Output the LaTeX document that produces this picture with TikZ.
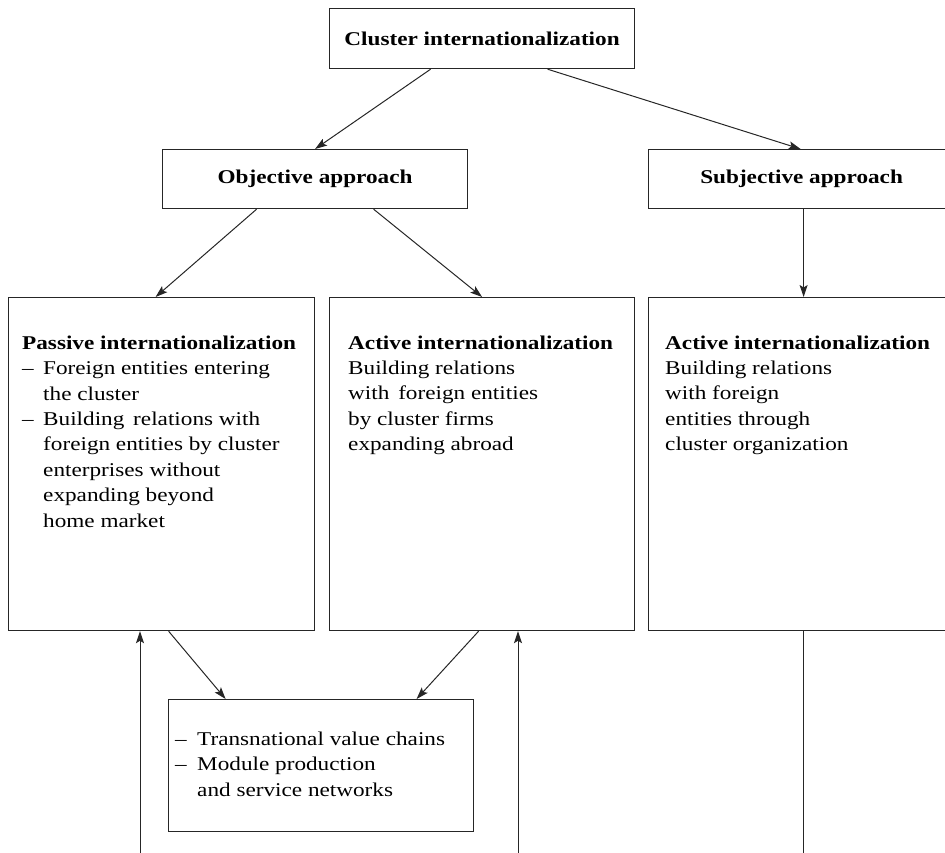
\documentclass[tikz,border=0pt]{standalone}
\usepackage{fontspec}
\setmainfont[FakeStretch=1.19]{Liberation Serif}
\usetikzlibrary{arrows.meta}
\newcommand\fs{\fontsize{19.5}{25.4}\selectfont}
\newcommand\itm{\makebox[21pt][l]{–}}
\newcommand\ind{\hspace*{21pt}}
\begin{document}
\begin{tikzpicture}[x=1pt,y=-1pt,
  every node/.style={font=\fs},
  box/.style={draw=black!85, line width=1.2pt, inner sep=0pt, anchor=north west},
  body/.style={anchor=base west, inner sep=0pt, align=left},
  arr/.style={draw=black!85, line width=1pt, -{Stealth[length=12pt,width=8pt,inset=2.5pt]}},
  lin/.style={draw=black!85, line width=1pt}]
\clip (0,0) rectangle (945,853);

% boxes
\node[box, minimum width=305pt, minimum height=60pt] (top) at (329,8) {\bfseries Cluster internationalization};
\node[box, minimum width=305pt, minimum height=59pt] (obj) at (162,149) {\bfseries Objective approach};
\node[box, minimum width=306pt, minimum height=59pt] (subj) at (648,149) {\bfseries Subjective approach};
\node[box, minimum width=306pt, minimum height=333pt] (passive) at (8,297) {};
\node[box, minimum width=305pt, minimum height=333pt] (active) at (329,297) {};
\node[box, minimum width=306pt, minimum height=333pt] (right) at (648,297) {};
\node[box, minimum width=305pt, minimum height=132pt] (bottom) at (168,699) {};

% box texts (anchored at the baseline of their last line)
\node[body] (passivetxt) at (22,527) {\textbf{Passive internationalization}\\
  \itm Foreign entities entering\\
  \ind the cluster\\
  \itm Building\hspace{3pt} relations with\\
  \ind foreign entities by cluster\\
  \ind enterprises without\\
  \ind expanding beyond\\
  \ind home market};
\node[body] (activetxt) at (348,450.6) {\textbf{Active internationalization}\\
  Building relations\\
  with\hspace{3pt} foreign entities\\
  by cluster firms\\
  expanding abroad};
\node[body] (righttxt) at (665,450.6) {\textbf{Active internationalization}\\
  Building relations\\
  with foreign\\
  entities through\\
  cluster organization};
\node[body] (bottomtxt) at (175,796) {\makebox[22pt][l]{–}Transnational value chains\\
  \makebox[22pt][l]{–}Module production\\
  \hspace*{22pt}and service networks};

% connectors
\draw[arr] ([xshift=-51.5pt]top.south) -- (obj.north);
\draw[arr] ([xshift=65.5pt]top.south) -- ([xshift=-1pt]subj.north);
\draw[arr] ([xshift=-58.5pt]obj.south) -- ([xshift=-6pt]passive.north);
\draw[arr] ([xshift=58.5pt]obj.south) -- (active.north);
\draw[arr] ([xshift=2pt]subj.south) -- ([xshift=2pt]right.north);
\draw[arr] ([xshift=7pt]passive.south) -- ([xshift=-95.5pt]bottom.north);
\draw[arr] ([xshift=-3.5pt]active.south) -- ([xshift=95.5pt]bottom.north);
\coordinate (pin) at (140,853);
\coordinate (ain) at (518,853);
\coordinate (rout) at (803,853);
\draw[arr] (pin) -- (passive.south -| pin);
\draw[arr] (ain) -- (active.south -| ain);
\draw[lin] (right.south -| rout) -- (rout);
\end{tikzpicture}
\end{document}
